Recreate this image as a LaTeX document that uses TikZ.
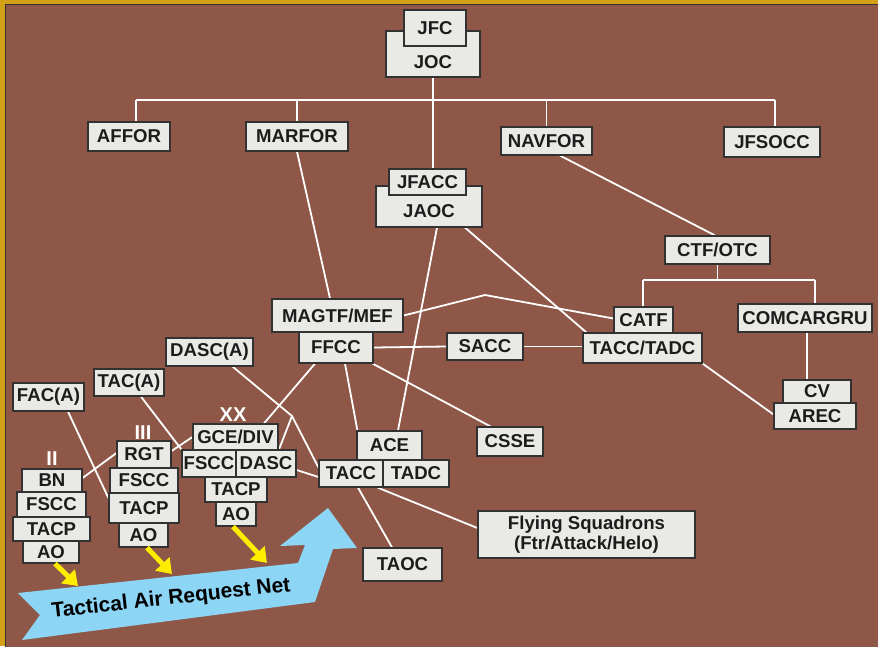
\documentclass[tikz,border=0pt]{standalone}
\usepackage{fontspec}
\setmainfont{Liberation Sans}
\usetikzlibrary{arrows.meta,calc}
\definecolor{bg}{RGB}{143,87,71}
\definecolor{gold}{RGB}{212,160,23}
\definecolor{boxfill}{RGB}{233,233,229}
\definecolor{boxline}{RGB}{50,50,50}
\definecolor{txt}{RGB}{28,28,28}
\definecolor{netblue}{RGB}{140,213,245}
\definecolor{yel}{RGB}{255,236,0}
\newcommand\bx[7][]{%
  \pgfmathsetmacro\bxcx{(#3+#5)/2}%
  \pgfmathsetmacro\bxcy{(#4+#6)/2}%
  \pgfmathsetmacro\bxw{#5-#3}%
  \pgfmathsetmacro\bxh{#6-#4}%
  \node[box,minimum width=\bxw pt,minimum height=\bxh pt,#1] (#2) at (\bxcx,\bxcy) {#7};}
\tikzset{
  box/.style={draw=boxline,fill=boxfill,line width=1.2pt,inner sep=0pt,text=txt,
    font=\fontsize{18.6}{20}\selectfont\bfseries},
  lbl/.style={inner sep=0pt,text=txt,font=\fontsize{18.6}{20}\selectfont\bfseries},
  echelon/.style={inner sep=0pt,text=white,font=\fontsize{20}{22}\selectfont\bfseries},
  conn/.style={white,line width=1.8pt},
  yarrow/.style={yel,line width=5pt,-{Triangle[length=14pt,width=19pt]}},
}
\begin{document}
\begin{tikzpicture}[x=1pt,y=-1pt]
\useasboundingbox (0,0) rectangle (878,646);
\fill[gold] (0,0) rectangle (878,646);
\fill[bg] (5,4.5) rectangle (880,650);
\draw[boxline,line width=1pt] (5,650) -- (5,4.5) -- (880,4.5);

% free coordinates
\coordinate (busL) at (136,100);
\coordinate (busR) at (775,100);
\coordinate (ctfL) at (643,280);
\coordinate (ctfR) at (815,280);
\coordinate (kink) at (485,295);
\coordinate (jdasc) at (292,416);
\coordinate (y2) at (78,586);
\coordinate (y3) at (172,574);
\coordinate (yx) at (267,563);

% ---- nodes defined invisibly first so that connectors can be drawn behind them
\begin{scope}[every node/.append style={opacity=0}]
\bx{joc}{386}{31}{480}{77}{}
\bx{jfc}{404}{10}{466}{46}{JFC}
\bx{affor}{88}{122}{170}{151}{AFFOR}
\bx{marfor}{246}{122}{348}{151}{MARFOR}
\bx{navfor}{501}{127}{592}{155}{NAVFOR}
\bx{jfsocc}{724}{127}{820}{157}{JFSOCC}
\bx{jaoc}{376}{186}{482}{227}{}
\bx{jfacc}{389}{169}{466}{195}{JFACC}
\bx{ctf}{665}{236}{770}{264}{CTF/OTC}
\bx{catf}{614}{307}{673}{333}{CATF}
\bx{tacctadc}{583}{333}{702}{363}{TACC/TADC}
\bx{comcar}{738}{304}{872}{332}{COMCARGRU}
\bx{cv}{783}{380}{851}{403}{CV}
\bx{arec}{774}{403}{856}{429}{AREC}
\bx{magtf}{272}{299}{403}{332}{MAGTF/MEF}
\bx{ffcc}{299}{332}{373}{363}{FFCC}
\bx{sacc}{447}{333}{523}{360}{SACC}
\bx{dasca}{166}{338}{253}{366}{DASC(A)}
\bx{taca}{94}{369}{164}{396}{TAC(A)}
\bx{faca}{13}{383}{84}{411}{FAC(A)}
\bx{bn}{22}{469}{82}{492}{BN}
\bx{fscc2}{17}{492}{86}{517}{FSCC}
\bx{tacp2}{13}{517}{90}{541}{TACP}
\bx{ao2}{23}{541}{79}{563}{AO}
\bx{rgt}{117}{441}{171}{468}{RGT}
\bx{fscc3}{110}{468}{178}{493}{FSCC}
\bx{tacp3}{109}{493}{179}{523}{TACP}
\bx{ao3}{119}{523}{168}{547}{AO}
\bx{gce}{193}{424}{278}{450}{GCE/DIV}
\bx{fsccx}{182}{450}{236}{477}{FSCC}
\bx{dascx}{236}{450}{296}{477}{DASC}
\bx{tacpx}{205}{477}{267}{502}{TACP}
\bx{aox}{216}{502}{256}{526}{AO}
\bx{ace}{357}{431}{422}{460}{ACE}
\bx{tacc}{319}{460}{383}{487}{TACC}
\bx{tadc}{383}{460}{449}{487}{TADC}
\bx{csse}{477}{427}{543}{456}{CSSE}
\bx{taoc}{363}{548}{442}{581}{TAOC}
\bx[align=center]{fly}{478}{511}{695}{558}{Flying Squadrons\\(Ftr/Attack/Helo)}
\end{scope}

% ---- connectors
\draw[conn] (joc.south) -- (joc.south |- jfacc.north);
\draw[conn] (busL) -- (busR);
\draw[conn] (busL) -- (busL |- affor.north);
\draw[conn] (marfor.north |- busL) -- (marfor.north);
\draw[conn] (navfor.north |- busL) -- (navfor.north);
\draw[conn] (busR) -- (busR |- jfsocc.north);
\draw[conn] (marfor.south) -- ([xshift=-7.5pt]magtf.north);
\draw[conn] ([xshift=13.5pt]navfor.south) -- ([xshift=-2.5pt]ctf.north);
\draw[conn] (ctf.south) -- (ctf.south |- ctfL);
\draw[conn] (ctfL) -- (ctfR);
\draw[conn] (ctfL) -- (ctfL |- catf.north);
\draw[conn] (ctfR) -- (ctfR |- comcar.north);
\draw[conn] ([xshift=2pt]comcar.south) -- ([xshift=2pt]comcar.south |- cv.north);
\draw[conn] (tacctadc.south east) -- ([yshift=-12pt]arec.north west);
\draw[conn] (magtf.east) -- (kink) -- ([yshift=1.5pt]catf.west);
\draw[conn] ([xshift=36pt]jaoc.south) -- ([xshift=4pt]tacctadc.north west);
\draw[conn] ([xshift=8pt]jaoc.south) -- ([xshift=8.5pt]ace.north);
\draw[conn] (ffcc.east) -- (sacc.west);
\draw[conn] (sacc.east) -- (sacc.east -| tacctadc.west);
\draw[conn] ([xshift=-21pt]ffcc.south) -- ([xshift=28.5pt]gce.north);
\draw[conn] ([xshift=9pt]ffcc.south) -- ([xshift=1pt]ace.north west);
\draw[conn] ([xshift=-1pt]ffcc.south east) -- ([xshift=14pt]csse.north west);
\draw[conn] ([xshift=-21pt]dasca.south east) -- (jdasc) -- ([yshift=-8pt]tacc.north west);
\draw[conn] (jdasc) -- ([xshift=13pt]dascx.north);
\draw[conn] ([yshift=-6.5pt]dascx.east) -- ([yshift=-3.5pt]tacc.west);
\draw[conn] ([xshift=12pt]taca.south) -- (fsccx.north west);
\draw[conn] ([xshift=19.5pt]faca.south) -- ([yshift=10pt]tacp3.west);
\draw[conn] ([yshift=2.5pt]bn.east) -- ([yshift=1.5pt]rgt.west);
\draw[conn] ([yshift=3.5pt]rgt.east) -- (gce.west);
\draw[conn] ([xshift=7pt]tacc.south) -- ([xshift=-10.5pt]taoc.north);
\draw[conn] ([xshift=-6pt]tacc.south east) -- ([yshift=6.5pt]fly.west);

% ---- boxes (visible)
\bx{joc}{386}{31}{480}{77}{}
\node[lbl] (joctxt) at (433,62) {JOC};
\bx{jfc}{404}{10}{466}{46}{JFC}
\bx{affor}{88}{122}{170}{151}{AFFOR}
\bx{marfor}{246}{122}{348}{151}{MARFOR}
\bx{navfor}{501}{127}{592}{155}{NAVFOR}
\bx{jfsocc}{724}{127}{820}{157}{JFSOCC}
\bx{jaoc}{376}{186}{482}{227}{}
\node[lbl] (jaoctxt) at (429,211) {JAOC};
\bx{jfacc}{389}{169}{466}{195}{JFACC}
\bx{ctf}{665}{236}{770}{264}{CTF/OTC}
\bx{catf}{614}{307}{673}{333}{CATF}
\bx{tacctadc}{583}{333}{702}{363}{TACC/TADC}
\bx{comcar}{738}{304}{872}{332}{COMCARGRU}
\bx{cv}{783}{380}{851}{403}{CV}
\bx{arec}{774}{403}{856}{429}{AREC}
\bx{magtf}{272}{299}{403}{332}{MAGTF/MEF}
\bx{ffcc}{299}{332}{373}{363}{FFCC}
\bx{sacc}{447}{333}{523}{360}{SACC}
\bx{dasca}{166}{338}{253}{366}{DASC(A)}
\bx{taca}{94}{369}{164}{396}{TAC(A)}
\bx{faca}{13}{383}{84}{411}{FAC(A)}
\bx{bn}{22}{469}{82}{492}{BN}
\bx{fscc2}{17}{492}{86}{517}{FSCC}
\bx{tacp2}{13}{517}{90}{541}{TACP}
\bx{ao2}{23}{541}{79}{563}{AO}
\bx{rgt}{117}{441}{171}{468}{RGT}
\bx{fscc3}{110}{468}{178}{493}{FSCC}
\bx{tacp3}{109}{493}{179}{523}{TACP}
\bx{ao3}{119}{523}{168}{547}{AO}
\bx{gce}{193}{424}{278}{450}{GCE/DIV}
\bx{fsccx}{182}{450}{236}{477}{FSCC}
\bx{dascx}{236}{450}{296}{477}{DASC}
\bx{tacpx}{205}{477}{267}{502}{TACP}
\bx{aox}{216}{502}{256}{526}{AO}
\bx{ace}{357}{431}{422}{460}{ACE}
\bx{tacc}{319}{460}{383}{487}{TACC}
\bx{tadc}{383}{460}{449}{487}{TADC}
\bx{csse}{477}{427}{543}{456}{CSSE}
\bx{taoc}{363}{548}{442}{581}{TAOC}
\bx[align=center]{fly}{478}{511}{695}{558}{Flying Squadrons\\(Ftr/Attack/Helo)}

% echelon marks
\node[echelon] (ech2) at (52,459) {II};
\node[echelon] (ech3) at (143,433) {III};
\node[echelon] (echx) at (233,415) {XX};

% Tactical Air Request Net ribbon
\fill[netblue] (18,593) -- (298,563) -- (305,545) -- (280,546) -- (328,508)
  -- (357,548) -- (333,549) -- (315,602) -- (22,640) -- (40,615) -- cycle;
\node[lbl,text=black,font=\fontsize{21}{22}\selectfont\bfseries,rotate=6.3] (net) at (171,599) {Tactical Air Request Net};

% yellow arrows
\draw[yarrow] ([xshift=4pt]ao2.south) -- (y2);
\draw[yarrow] ([xshift=3.5pt]ao3.south) -- (y3);
\draw[yarrow] ([xshift=-3pt]aox.south) -- (yx);
\end{tikzpicture}
\end{document}
